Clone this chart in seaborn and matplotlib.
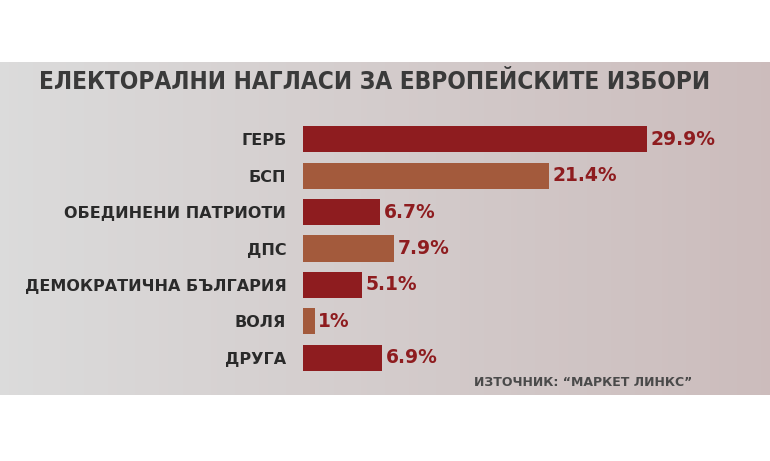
import numpy as np
import pandas as pd
import seaborn as sns
import matplotlib.pyplot as plt

parties = ["ГЕРБ", "БСП", "ОБЕДИНЕНИ ПАТРИОТИ", "ДПС", "ДЕМОКРАТИЧНА БЪЛГАРИЯ", "ВОЛЯ", "ДРУГА"]
values = [29.9, 21.4, 6.7, 7.9, 5.1, 1.0, 6.9]
labels = ["29.9%", "21.4%", "6.7%", "7.9%", "5.1%", "1%", "6.9%"]
colors = ["#8e1c1f", "#a35a3c", "#8e1c1f", "#a35a3c", "#8e1c1f", "#a35a3c", "#8e1c1f"]

df = pd.DataFrame({"party": parties, "value": values})

sns.set_style("white")
fig = plt.figure(figsize=(7.7, 4.61), dpi=100)
W, H = 770, 461

# grey background band with soft gradient
bg = fig.add_axes([0, 1 - 395 / H, 1, (395 - 62) / H])
grad = np.linspace(0, 1, 256)
img = np.zeros((2, 256, 3))
left = np.array([0.86, 0.86, 0.86])
right = np.array([0.80, 0.74, 0.74])
for i in range(3):
    img[:, :, i] = left[i] + (right[i] - left[i]) * grad
bg.imshow(img, aspect="auto", extent=[0, 1, 0, 1])
bg.axis("off")

fig.text(375 / W, 1 - 82 / H, "ЕЛЕКТОРАЛНИ НАГЛАСИ ЗА ЕВРОПЕЙСКИТЕ ИЗБОРИ",
         ha="center", va="center", fontsize=17.5, fontweight="bold",
         fontstretch="condensed", color="#3a3a3a")

ax = fig.add_axes([303 / W, 1 - 376 / H, (W - 303) / W, 255 / H])
ax.patch.set_alpha(0)
sns.barplot(data=df, x="value", y="party", hue="party", palette=colors,
            orient="h", width=0.72, saturation=1, linewidth=0, legend=False, ax=ax)
ax.set_xlim(0, (W - 303) / 11.5)
ax.set_ylim(6.5, -0.5)
ax.set_xlabel("")
ax.set_ylabel("")
ax.set_xticks([])
ax.tick_params(axis="y", length=0, pad=12)
for t in ax.get_yticklabels():
    t.set_fontweight("bold")
    t.set_fontsize(11.5)
    t.set_color("#2a2a2a")
for s in ax.spines.values():
    s.set_visible(False)
for i, (v, lab) in enumerate(zip(values, labels)):
    ax.text(v + 0.3, i, lab, va="center", ha="left", fontsize=13.5,
            fontweight="bold", color="#8e1c1f")

fig.text(692 / W, 1 - 382 / H, "ИЗТОЧНИК: “МАРКЕТ ЛИНКС”", ha="right", va="center",
         fontsize=9, fontweight="bold", color="#4a4a4a")

fig.savefig("out.png", dpi=100)
